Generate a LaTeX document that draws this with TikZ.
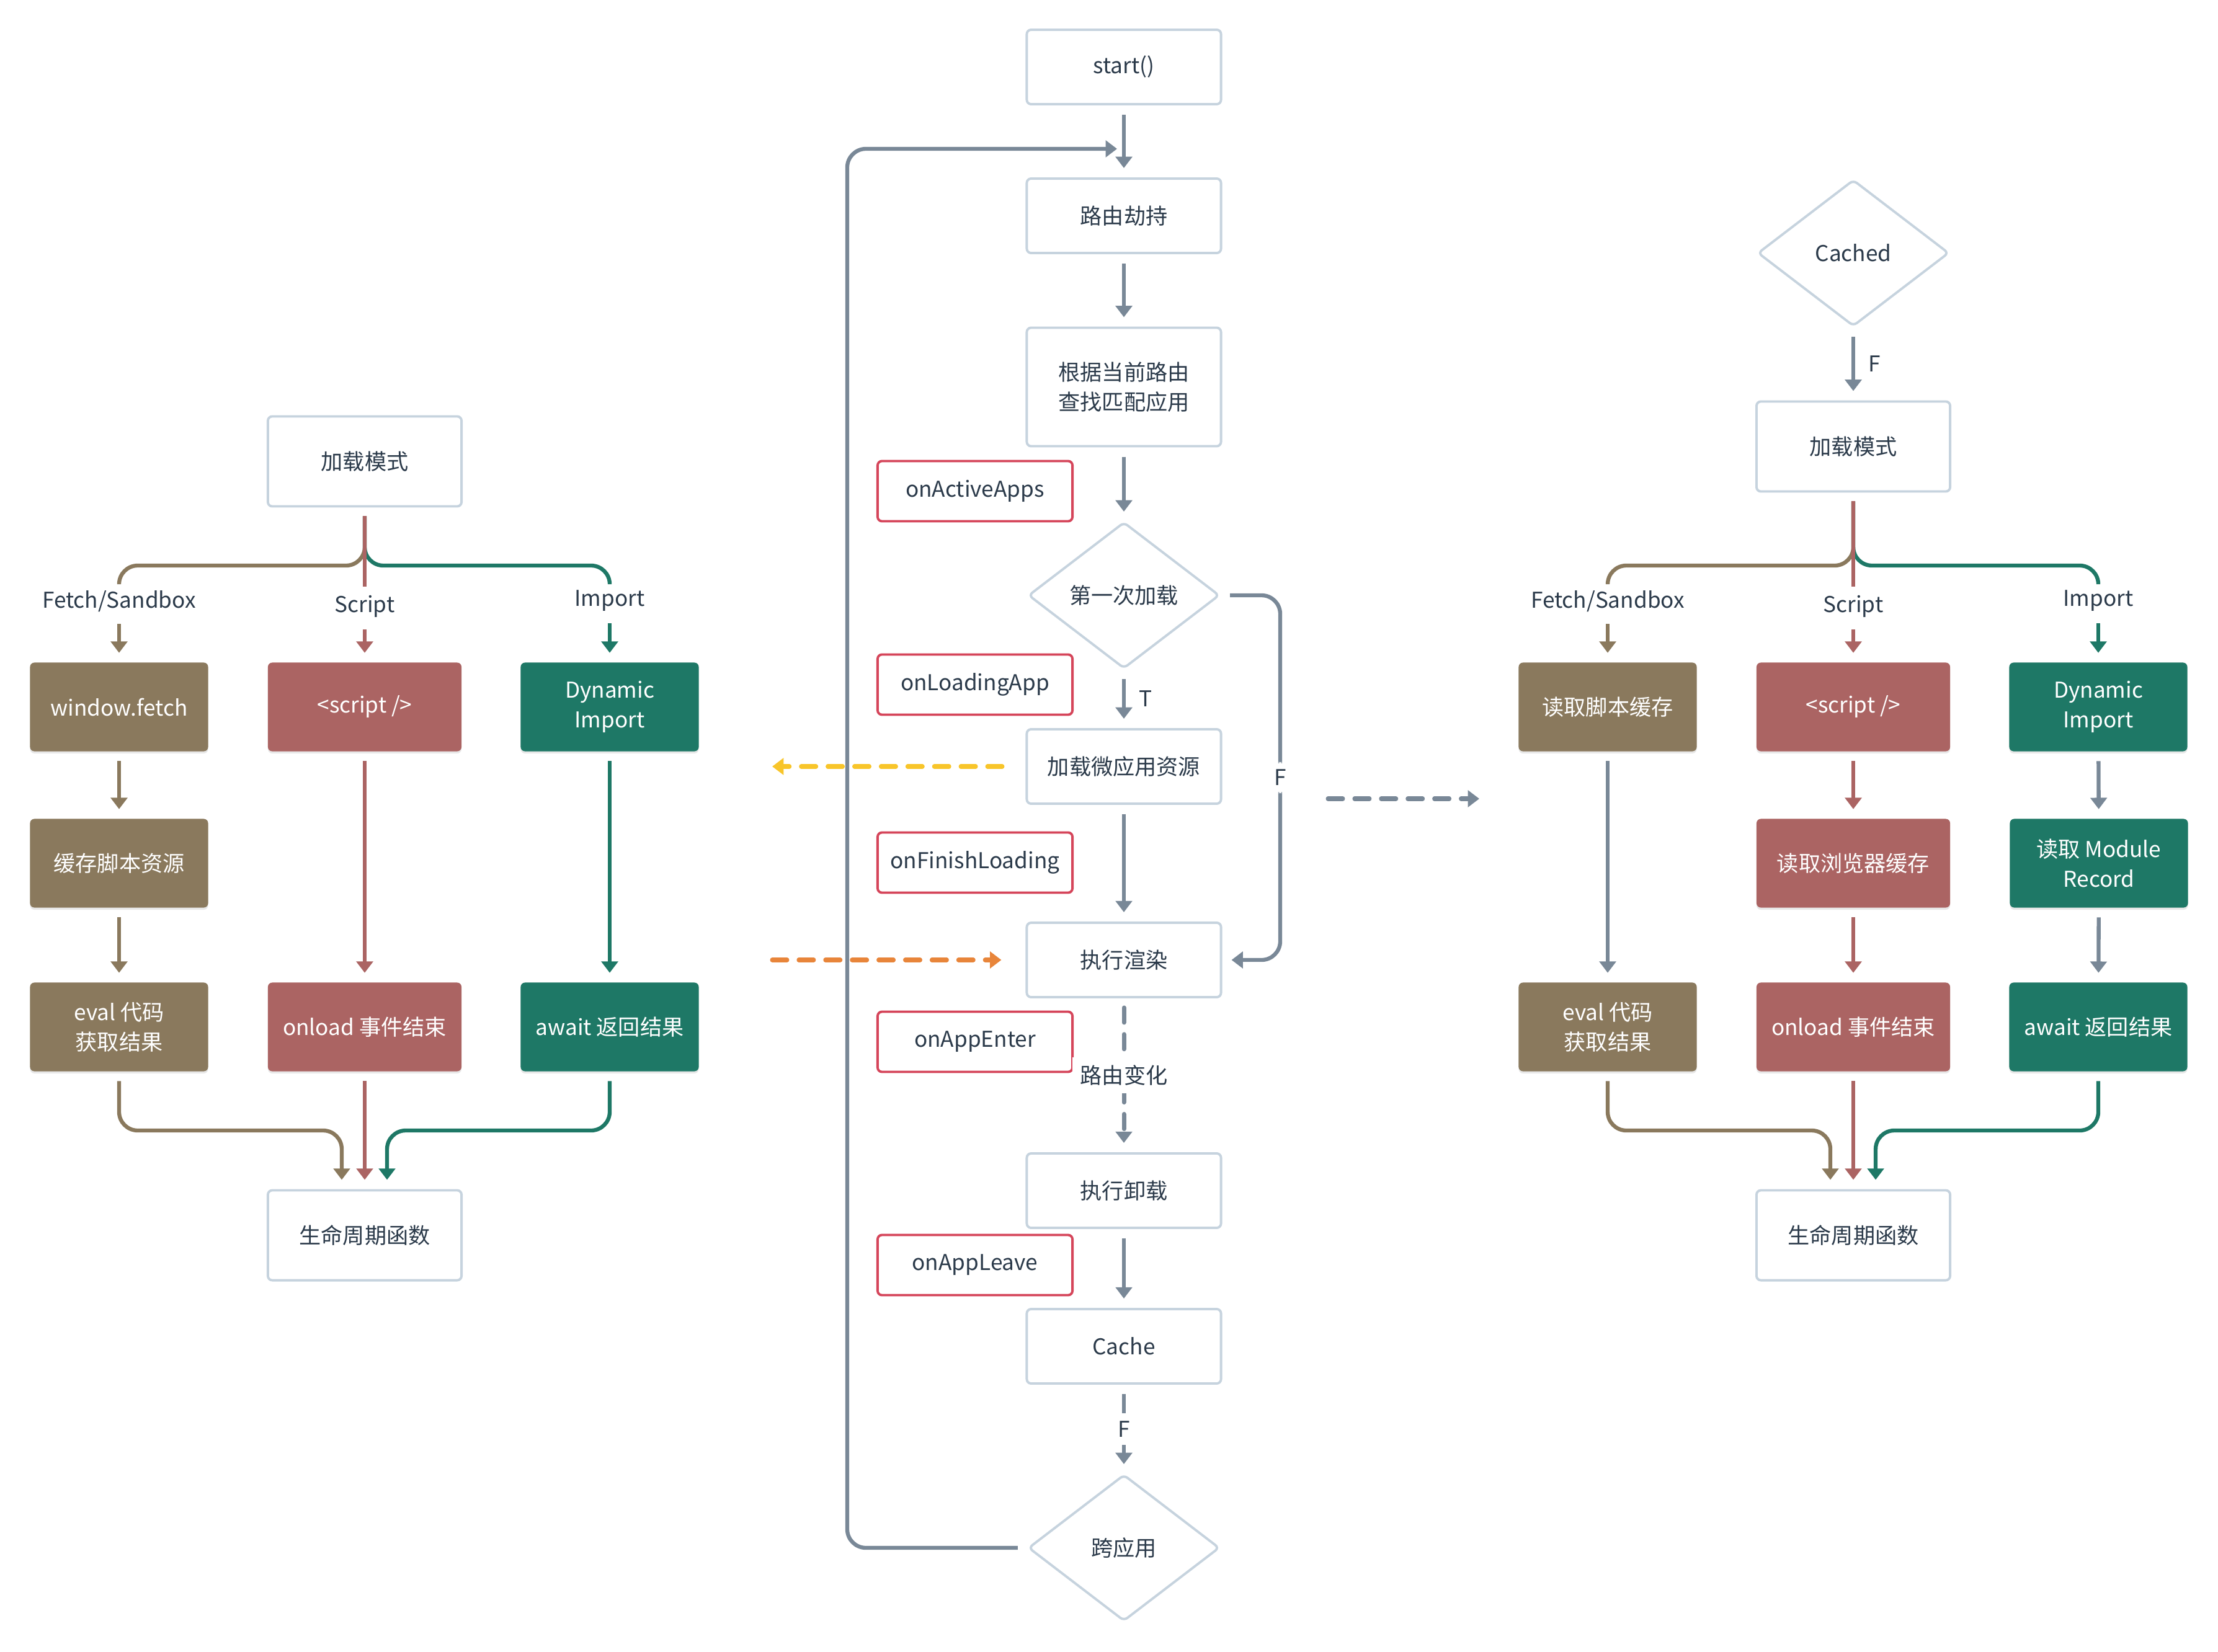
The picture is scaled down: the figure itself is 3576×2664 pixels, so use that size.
\documentclass[tikz,border=0pt]{standalone}
\usepackage{fontspec}
\setmainfont{Noto Sans CJK SC}
\usetikzlibrary{arrows.meta,shapes.geometric,shadows}
\definecolor{ink}{HTML}{2B3A4A}
\definecolor{edge}{HTML}{C6D3DE}
\definecolor{flowgray}{HTML}{798897}
\definecolor{hookred}{HTML}{D5455A}
\definecolor{fetchbrown}{HTML}{8A795D}
\definecolor{scriptred}{HTML}{AB6463}
\definecolor{importgreen}{HTML}{1E7866}
\definecolor{lineyellow}{HTML}{F8C52A}
\definecolor{lineorange}{HTML}{E8853A}
\tikzset{
  stage/.style={draw=edge,line width=1.1pt,rounded corners=2pt,fill=white,text=ink,minimum width=3.13cm,minimum height=1.2cm,align=center},
  hook/.style={draw=hookred,line width=1.1pt,rounded corners=2pt,fill=white,text=ink,minimum width=3.14cm,minimum height=0.97cm},
  decision/.style={diamond,draw=edge,line width=1.1pt,rounded corners=2pt,fill=white,text=ink,minimum width=3.08cm,minimum height=2.36cm,inner sep=1pt},
  tile/.style={fill=#1,rounded corners=2pt,text=white,minimum width=2.87cm,minimum height=1.43cm,align=center,drop shadow={shadow xshift=0pt,shadow yshift=-1pt,opacity=.18}},
  lbl/.style={text=ink,fill=white,inner sep=3.5pt},
  tag/.style={text=ink,inner sep=1pt},
  flow/.style={draw=#1,line width=1.8pt,-{Triangle[width=7.5pt,length=5.2pt]},shorten <=0.15cm,shorten >=0.15cm},
  flow/.default=flowgray,
  dashflow/.style={flow=#1,line width=2pt,dash pattern=on 6.8pt off 5.4pt,line cap=round},
  dashflow/.default=flowgray,
  branch/.style={draw=#1,line width=1.8pt,rounded corners=0.3cm,shorten <=0.14cm,shorten >=0.1cm}
}
\begin{document}
\begin{tikzpicture}[x=0.01cm,y=-0.01cm,font=\fontsize{10pt}{13.6pt}\selectfont]
\useasboundingbox (0,0) rectangle (3576,2664);
% centre column
\node[stage] (start) at (1812,108) {start()};
\node[stage] (route) at (1812,348) {路由劫持};
\node[stage,minimum height=1.91cm] (match) at (1812,624) {根据当前路由\\查找匹配应用};
\node[decision] (first) at (1812,960) {第一次加载};
\node[stage] (loadres) at (1812,1236) {加载微应用资源};
\node[stage] (render) at (1812,1548) {执行渲染};
\node[stage] (unmount) at (1812,1920) {执行卸载};
\node[stage] (cache) at (1812,2171) {Cache};
\node[decision] (cross) at (1812,2496) {跨应用};
\foreach \n/\y/\t in {hact/792/onActiveApps,hload/1104/onLoadingApp,hfinish/1391/onFinishLoading,henter/1680/onAppEnter,hleave/2040/onAppLeave}
  {\node[hook] (\n) at (1572,\y) {\t};}
\coordinate (loopin) at (1812,240);
\coordinate (fbend) at (2064,1548);
\coordinate (ywest) at (1230,1236);
\coordinate (owest) at (1230,1548);
\coordinate (toR1) at (2126,1288);
\coordinate (toR2) at (2400,1288);
\draw[flow] (start)--(route);
\draw[flow] (route)--(match);
\draw[flow] (match)--(first);
\draw[flow] (first)--node[tag,right=5pt]{T}(loadres);
\draw[flow] (loadres)--(render);
\draw[dashflow] (render)--node[lbl]{路由变化}(unmount);
\draw[flow] (unmount)--(cache);
\draw[flow] (cache)--node[lbl]{F}(cross);
\draw[flow,rounded corners=0.3cm] (first.east)-|node[lbl,pos=.75]{F}(fbend)--(render.east);
\draw[flow,rounded corners=0.3cm,shorten >=0.11cm] (cross.west)--++(-290,0)|-(loopin);
\draw[dashflow=lineyellow,shorten <=0.375cm] (loadres.west)--(ywest);
\draw[dashflow=lineorange,shorten >=0.39cm] (owest)--(render.west);
\draw[dashflow] (toR1)--(toR2);
% side panels
\node[tile=fetchbrown] (lfetch) at (192,1140) {window.fetch};
\node[tile=fetchbrown] (lcache) at (192,1392) {缓存脚本资源};
\node[decision] (rcached) at (2988,408) {Cached};
\node[tile=fetchbrown] (rfetch) at (2592,1140) {读取脚本缓存};
\node[tile=scriptred,minimum width=3.12cm] (rbrowser) at (2988,1392) {读取浏览器缓存};
\node[tile=importgreen] (rrecord) at (3384,1392) {读取 Module\\Record};
\foreach \p/\dx/\my in {l/0/744,r/2400/720}{
  \node[stage,minimum width=3.12cm,minimum height=1.45cm] (\p mode) at (588+\dx,\my) {加载模式};
  \coordinate (\p split) at (588+\dx,912);
  \node[tag] (\p fetchlbl) at (192+\dx,970) {Fetch/Sandbox};
  \node[tag] (\p scriptlbl) at (588+\dx,978) {Script};
  \node[tag] (\p importlbl) at (983+\dx,969) {Import};
  \node[tile=scriptred,minimum width=3.12cm] (\p script) at (588+\dx,1140) {<script />};
  \node[tile=importgreen] (\p import) at (983+\dx,1140) {Dynamic\\Import};
  \node[tile=fetchbrown] (\p eval) at (192+\dx,1656) {eval 代码\\获取结果};
  \node[tile=scriptred,minimum width=3.12cm] (\p onload) at (588+\dx,1656) {onload 事件结束};
  \node[tile=importgreen] (\p await) at (983+\dx,1656) {await 返回结果};
  \node[stage,minimum width=3.12cm,minimum height=1.45cm] (\p life) at (588+\dx,1992) {生命周期函数};
  \coordinate (\p merge) at (588+\dx,1823);
  \draw[branch=fetchbrown] (\p mode.south)--(\p split)-|(\p fetchlbl.north);
  \draw[branch=importgreen] (\p mode.south)--(\p split)-|(\p importlbl.north);
  \draw[branch=scriptred] (\p mode.south)--(\p scriptlbl.north);
  \draw[flow=fetchbrown] (\p fetchlbl)--(\p fetch);
  \draw[flow=scriptred] (\p scriptlbl)--(\p script);
  \draw[flow=importgreen] (\p importlbl)--(\p import);
  \draw[flow=fetchbrown,rounded corners=0.3cm] (\p eval.south)|-([xshift=-0.37cm]\p merge)--([xshift=-0.37cm]\p life.north);
  \draw[flow=scriptred] (\p onload)--(\p life);
  \draw[flow=importgreen,rounded corners=0.3cm] (\p await.south)|-([xshift=0.36cm]\p merge)--([xshift=0.36cm]\p life.north);
}
\draw[flow=fetchbrown] (lfetch)--(lcache);
\draw[flow=fetchbrown] (lcache)--(leval);
\draw[flow=scriptred] (lscript)--(lonload);
\draw[flow=importgreen] (limport)--(lawait);
\draw[flow] (rcached)--node[tag,right=5pt]{F}(rmode);
\draw[flow] (rfetch)--(reval);
\draw[flow=scriptred] (rscript)--(rbrowser);
\draw[flow=scriptred] (rbrowser)--(ronload);
\draw[flow] (rimport)--(rrecord);
\draw[flow] (rrecord)--(rawait);
\end{tikzpicture}
\end{document}
